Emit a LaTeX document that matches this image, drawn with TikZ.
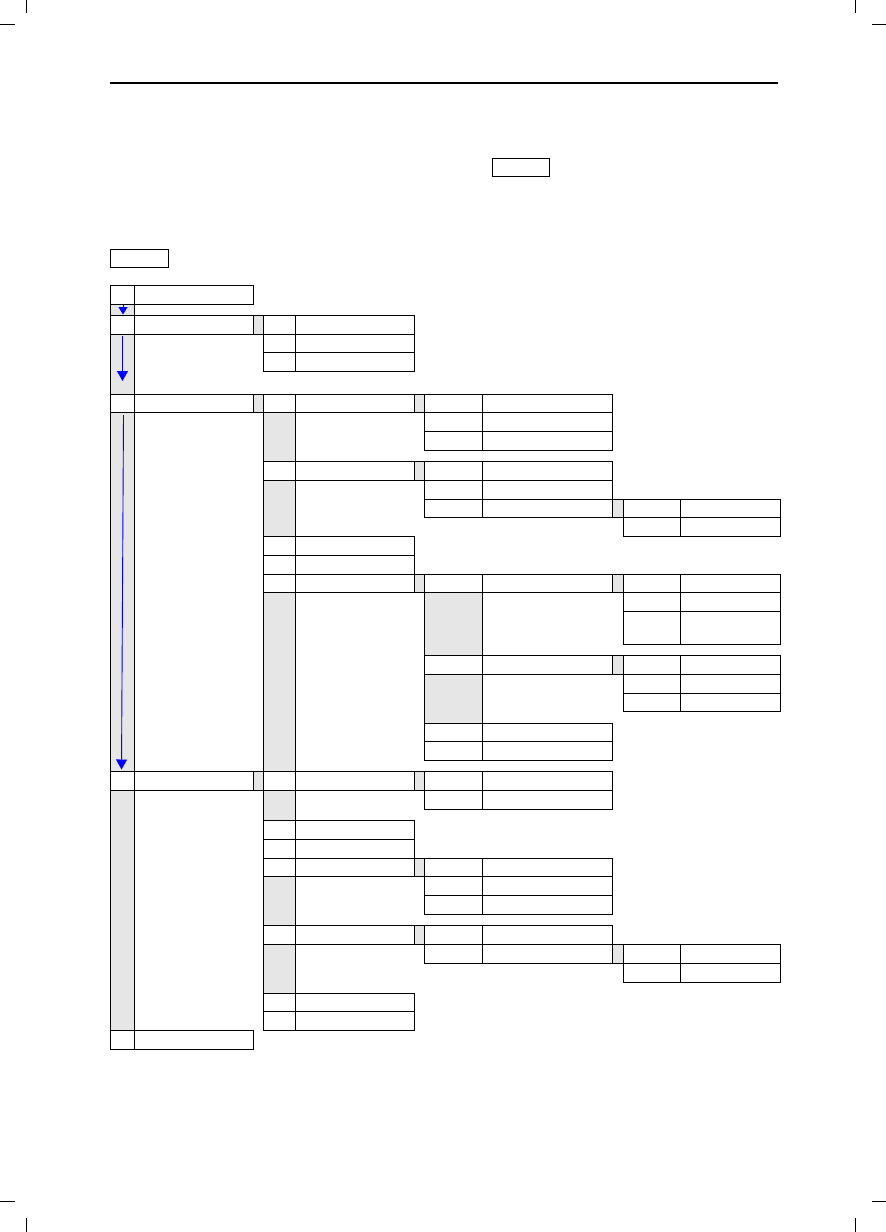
\documentclass[tikz,border=0pt]{standalone}
\usepackage{xcolor}
\usepackage{tikz}
\usetikzlibrary{arrows.meta}

\definecolor{cellgray}{RGB}{230,230,230}
\tikzset{
    cell/.style={draw, line width=1pt},
    graycell/.style={cell, fill=cellgray},
    flow/.style={blue, line width=0.9pt, -{Triangle[width=11pt, length=10pt]}},
}

\begin{document}
\begin{tikzpicture}[x=1pt, y=-1pt]
        \fill[white] (0,0) rectangle (886,1232);
        \useasboundingbox (0,0) rectangle (886,1232);

        % crop marks and page rule
        \draw[line width=0.8pt] (26.6,0) -- ++(0,12.7) (0,24.3) -- ++(14.7,0);
        \draw[line width=0.8pt] (855.4,0) -- ++(0,12.7) (871.8,24.3) -- ++(14.2,0);
        \draw[line width=0.8pt] (26.6,1218.3) -- ++(0,13.7) (0,1201) -- ++(14.7,0);
        \draw[line width=0.8pt] (855.4,1218.3) -- ++(0,13.7) (871.8,1201) -- ++(14.2,0);
        \draw[line width=1.2pt] (110,83) -- (778,83);

        \draw[cell] (492,158) rectangle (549,176);
        \draw[cell] (110,249) rectangle (168,267);

        % gray columns first
        \foreach \ya/\yb in {304.3/315.3, 334.3/394.3, 412.5/771.3, 790.3/1030.3}
            \draw[graycell] (110,\ya) rectangle (134.3,\yb);
        \foreach \ya/\yb in {412.5/461.3, 480.3/536, 592.3/771.3, 790.3/820.3, 876.3/925.3, 944.3/993.3}
            \draw[graycell] (263.3,\ya) rectangle (295.3,\yb);
        \foreach \ya/\yb in {592.3/655.7, 674.3/723}
            \draw[graycell] (424.3,\ya) rectangle (482.3,\yb);

        % links between levels
        \foreach \ya/\yb in {315.3/334.3, 394.3/412.5, 771.3/790.3}
            \draw[graycell] (253.3,\ya) rectangle (263.3,\yb);
        \foreach \ya/\yb in {394.3/412.5, 461.3/480.3, 574.3/592.3, 771.3/790.3, 858.3/876.3, 925.3/944.3}
            \draw[graycell] (414.3,\ya) rectangle (424.3,\yb);
        \foreach \ya/\yb in {499/517.3, 574.3/592.3, 655.7/674.3, 944.3/963.3}
            \draw[graycell] (612.7,\ya) rectangle (623.3,\yb);

        % level 1
        \foreach \ya/\yb in {285.3/304.3, 315.3/334.3, 394.3/412.5, 771.3/790.3, 1030.3/1049.3}
            \draw[cell] (110,\ya) rectangle (134.3,\yb) (134.3,\ya) rectangle (253.3,\yb);

        % level 2
        \foreach \ya/\yb in {315.3/334.3, 334.3/352.3, 352.3/371.3, 394.3/412.5, 461.3/480.3,
                536/555, 555/574.3, 574.3/592.3, 771.3/790.3, 820.3/839.3, 839.3/858.3,
                858.3/876.3, 925.3/944.3, 993.3/1011.5, 1011.5/1030.3}
            \draw[cell] (263.3,\ya) rectangle (295.3,\yb) (295.3,\ya) rectangle (414.3,\yb);

        % level 3
        \foreach \ya/\yb in {394.3/412.5, 412.5/431.3, 431.3/450, 461.3/480.3, 480.3/499, 499/517.3,
                574.3/592.3, 655.7/674.3, 723/741.7, 741.7/760, 771.3/790.3, 790.3/809,
                858.3/876.3, 876.3/895, 895/914, 925.3/944.3, 944.3/963.3}
            \draw[cell] (424.3,\ya) rectangle (482.3,\yb) (482.3,\ya) rectangle (612.7,\yb);

        % level 4
        \foreach \ya/\yb in {499/517.3, 517.3/536, 574.3/592.3, 592.3/611.3, 611.3/644,
                655.7/674.3, 674.3/693.3, 693.3/711.7, 944.3/963.3, 963.3/982.3}
            \draw[cell] (623.3,\ya) rectangle (680.7,\yb) (680.7,\ya) rectangle (780.3,\yb);

        % order of the steps
        \coordinate (top1) at (123,305);
        \coordinate (end1) at (123,314.5);
        \coordinate (top2) at (122.5,336);
        \coordinate (end2) at (122.5,381);
        \coordinate (top3) at (123.5,415);
        \coordinate (end3) at (121.5,769.5);
        \draw[flow, -{Triangle[width=9pt, length=7.5pt]}] (top1) -- (end1);
        \draw[flow] (top2) -- (end2);
        \draw[flow] (top3) -- (end3);
    \end{tikzpicture}
\end{document}
